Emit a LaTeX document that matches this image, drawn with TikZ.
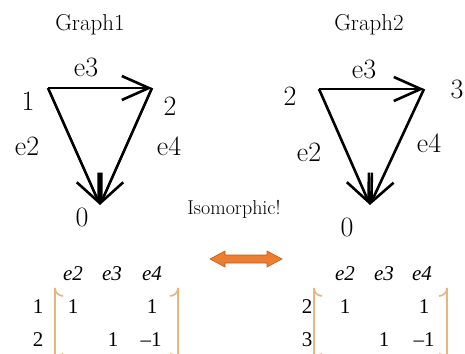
\documentclass[tikz,border=0pt]{standalone}
\usepackage{fontspec}
\newfontfamily\matfont{Liberation Serif}
\usetikzlibrary{arrows.meta}
\definecolor{arrorange}{HTML}{ED7D31}
\definecolor{arredge}{HTML}{C55A11}
\definecolor{brk}{HTML}{E6B67E}
\tikzset{
  edgearrow/.style={line width=2.6pt,-{Straight Barb[length=27pt,width=24pt,line width=2.6pt]}},
  vlabel/.style={font=\fontsize{28}{30}\selectfont,inner sep=0pt},
  title/.style={font=\fontsize{23}{25}\selectfont,inner sep=0pt},
  mat/.style={font=\matfont\fontsize{21}{23}\selectfont,inner sep=0pt},
  brack/.style={draw=brk,line width=1.6pt},
}
\begin{document}
\begin{tikzpicture}[x=1pt,y=-1pt]
\useasboundingbox (0,0) rectangle (465,353);
\fill[white] (0,0) rectangle (465,353);
\clip (0,0) rectangle (465,353);

% Graph1
\node[title] (t1) at (90,25) {Graph1};
\coordinate (a1) at (48,88);
\coordinate (a2) at (152,88);
\coordinate (a0) at (100,205);
\draw[edgearrow] (a1) -- (a2);
\draw[edgearrow] (a1) -- (a0);
\draw[edgearrow] (a2) -- (a0);
\node[vlabel] (l1) at (28,101) {1};
\node[vlabel] (l2) at (170,106) {2};
\node[vlabel] (l0) at (82,217) {0};
\node[vlabel] (le3) at (86,67) {e3};
\node[vlabel] (le2) at (27,146) {e2};
\node[vlabel] (le4) at (169,146) {e4};

% Graph2
\node[title] (t2) at (369,25) {Graph2};
\coordinate (b2) at (319,89);
\coordinate (b3) at (424,89);
\coordinate (b0) at (370,205);
\draw[edgearrow] (b2) -- (b3);
\draw[edgearrow] (b2) -- (b0);
\draw[edgearrow] (b3) -- (b0);
\node[vlabel] (m2) at (290,96) {2};
\node[vlabel] (m3) at (457,89) {3};
\node[vlabel] (m0) at (347,227) {0};
\node[vlabel] (me3) at (364,69) {e3};
\node[vlabel] (me2) at (309,152) {e2};
\node[vlabel] (me4) at (429,143) {e4};

% Isomorphic
\node[title,font=\fontsize{20}{22}\selectfont] (iso) at (234,209) {Isomorphic!};
\draw[fill=arrorange,draw=arredge,line width=0.6pt]
  (210,259) -- (225,251) -- (225,255) -- (267,255) -- (267,251) -- (282,259)
  -- (267,267) -- (267,263) -- (225,263) -- (225,267) -- cycle;

% Left matrix
\node[mat] (h12) at (73,274) {\itshape e2};
\node[mat] (h13) at (112,274) {\itshape e3};
\node[mat] (h14) at (152,274) {\itshape e4};
\node[mat] (r11) at (38,307) {1};
\node[mat] (r12) at (38,340) {2};
\node[mat] (c111) at (73,307) {1};
\node[mat] (c114) at (152,307) {1};
\node[mat] (c123) at (113,340) {1};
\node[mat] (c124) at (151,340) {\textendash1};
\draw[brack] (63,296) arc[start angle=90,end angle=180,radius=8] -- (55,362) arc[start angle=180,end angle=270,radius=8];
\draw[brack] (170,296) arc[start angle=90,end angle=0,radius=8] -- (178,362) arc[start angle=0,end angle=-90,radius=8];

% Right matrix
\node[mat] (h22) at (345,274) {\itshape e2};
\node[mat] (h23) at (384,274) {\itshape e3};
\node[mat] (h24) at (422,274) {\itshape e4};
\node[mat] (r21) at (307,307) {2};
\node[mat] (r22) at (307,340) {3};
\node[mat] (c211) at (345,307) {1};
\node[mat] (c214) at (424,307) {1};
\node[mat] (c223) at (384,340) {1};
\node[mat] (c224) at (424,340) {\textendash1};
\draw[brack] (322,296) arc[start angle=90,end angle=180,radius=8] -- (314,362) arc[start angle=180,end angle=270,radius=8];
\draw[brack] (439,296) arc[start angle=90,end angle=0,radius=8] -- (447,362) arc[start angle=0,end angle=-90,radius=8];
\end{tikzpicture}
\end{document}
